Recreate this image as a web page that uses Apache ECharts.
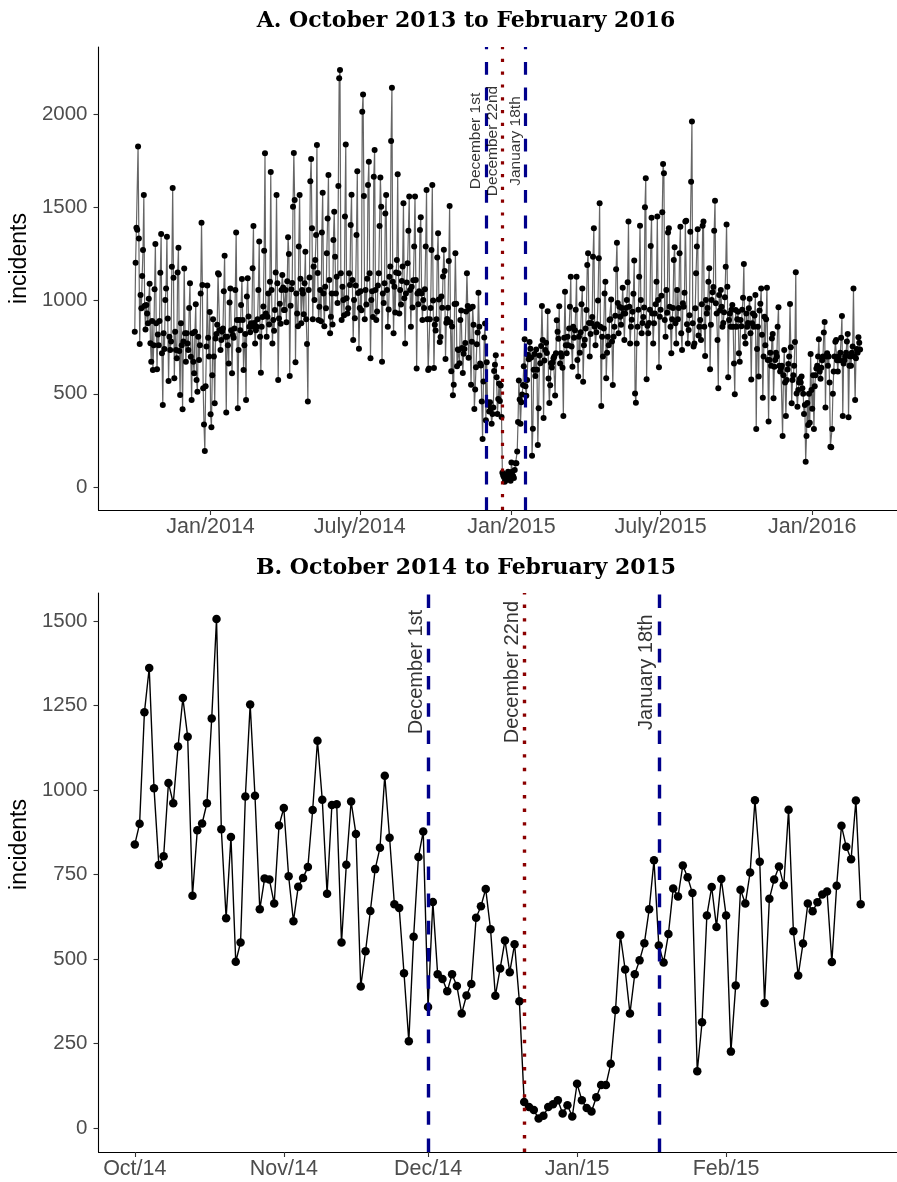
<!DOCTYPE html>
<html><head><meta charset="utf-8">
<script src="https://cdn.jsdelivr.net/npm/echarts@6/dist/echarts.min.js"></script>
<style>html,body{margin:0;padding:0;background:#fff}#c{width:897px;height:1182px}</style>
</head><body><div id="c"></div>
<script>
// ---- data (daily incidents) ----
// Panel A, Oct 1 2013 (Tue) .. Sep 30 2014, one row per week Tue..Mon
const incidents2013to2014 = [
833,1203,1390,1380,1825,1333,767,
1030,958,1131,1271,1566,972,845,
976,931,878,1010,1090,771,672,
890,628,760,1060,1303,878,631,
818,760,890,1149,1357,717,440,
824,740,1003,1065,1342,904,569,
806,735,780,1181,1603,1122,583,
833,735,690,1150,1283,729,494,
878,760,417,780,1171,824,672,
824,770,735,960,1092,699,467,
824,672,610,833,980,574,511,
806,681,760,1038,1417,1083,529,
336,193,540,753,1081,800,700,
938,390,320,600,900,700,449,
797,820,870,1146,1140,842,735,
788,833,850,1050,1240,806,399,
806,760,663,990,1064,840,610,
815,800,850,1056,1364,896,422,
735,896,840,976,1115,896,628,
760,820,467,1021,1119,914,860,
830,878,860,1173,1400,880,770,
840,860,900,1056,1316,806,613,
860,912,968,1267,1789,931,806,
913,1038,872,1100,1689,1056,770,
896,838,949,1150,1566,1092,574,
904,982,876,1056,1137,1070,949,
949,1056,884,1103,1339,1249,595,
972,1060,1094,1503,1791,1539,669,
1038,931,862,1289,1566,1117,878,
1056,1038,927,1092,1262,900,767,
458,1056,1123,1639,1759,1387,900,
1182,1003,1217,1351,1834,1148,896,
967,1056,889,1364,1578,1038,862,
1074,958,1253,1439,1673,1110,824,
913,1038,871,1324,1476,1235,1038,
1128,987,1614,2191,2236,1146,896,
1074,1003,921,1450,1836,1012,931,
958,1146,1083,1405,1567,1110,788,
1003,905,1080,1351,1693,1040,742,
960,1050,948,2012,2105,1560,900,
1056,978,1116,1619,1744,1146,690,
1003,1050,912,1664,1807,1056,896,
941,1080,1146,1400,1660,1503,672,
1038,987,1093,1467,1566,1056,860,
952,1128,1182,1855,2141,1100,824,
1074,936,1150,1217,1677,1146,931,
1056,978,1104,1182,1521,1012,770,
1038,1097,1200,1374,1557,1056,860,
1074,963,1108,1289,1557,1110,636,
1038,980,1050,1378,1446,1038,896,
1003,960,1060,1289,1593,900,628,
636,900,960,1271,1619,1000,638,
870
];
// Panel B (and panel A) Oct 1 2014 .. Mar 1 2015
const incidentsOct2014toFeb2015 = [
839,900,1230,1361,1005,778,804,1021,961,1129,
1272,1158,687,881,901,961,1212,1506,884,621,
861,492,549,981,1253,983,647,738,735,664,
895,947,745,612,714,740,772,941,1146,971,
693,956,958,549,779,966,870,419,523,642,
766,829,1042,859,662,651,458,257,566,802,
877,358,669,455,441,405,455,420,339,392,
426,622,656,707,588,391,472,555,461,544,
375,77,62,53,28,36,62,70,82,43,
67,34,131,82,59,49,91,127,127,190,
349,571,469,339,455,496,547,647,792,540,
490,574,709,685,777,742,695,168,313,629,
713,595,737,629,226,422,705,664,756,970,
788,370,678,735,774,718,942,582,451,546,
664,641,668,691,700,491,717,894,832,795,
969,662
];
// Panel A, Mar 2 2015 (Mon) .. Feb 28 2016; rows Tue..Mon
const incidents2015to2016 = [
717,
700,640,381,800,1047,760,717,
806,760,850,967,1128,753,645,
860,800,840,950,1128,681,592,
806,720,830,980,1065,565,760,
790,850,949,1190,1253,880,700,
820,880,912,1235,1387,860,760,
830,873,1000,1226,1521,860,434,
806,700,850,1038,1101,583,720,
806,760,896,900,1006,780,547,
806,860,918,1167,1310,987,824,
967,913,870,960,1069,931,788,
931,960,1003,1098,1423,967,770,
860,897,940,1036,1214,502,452,
770,860,950,1128,1401,1003,824,
880,912,963,1500,1655,578,865,
824,880,950,1292,1444,931,770,
878,931,980,1100,1450,1003,642,
913,950,1026,1473,1732,1682,896,
806,1056,934,1364,1387,966,860,
717,900,960,1217,1285,878,770,
1056,900,960,1253,1396,824,735,
985,967,1042,1423,1428,873,770,
842,921,1369,1637,1959,878,753,
770,958,1146,1289,1382,812,860,
896,788,980,1401,1423,860,703,
1003,931,960,1100,1173,631,870,
1003,1044,1072,1374,1535,985,931,
788,529,1029,946,1056,967,860,
880,937,1018,1181,1407,1074,588,
896,931,860,950,976,860,663,
497,949,860,900,940,717,672,
896,862,950,1015,1196,806,770,
931,860,880,958,1010,824,577,
878,931,860,920,1030,311,740,
860,592,946,983,1065,817,479,
700,913,760,900,1069,681,351,
681,720,650,797,820,476,645,
681,720,700,860,964,650,620,
640,650,274,600,735,560,381,
574,630,660,700,981,750,449,
574,600,650,778,1151,502,431,
520,560,580,560,592,530,500,
392,440,136,274,450,333,500,
345,713,520,420,600,311,540,
600,636,650,700,792,620,580,
640,680,700,829,885,427,700,
717,650,700,560,216,213,311,
500,620,700,779,788,680,620,
700,680,720,800,917,381,663,
680,700,720,780,820,374,650,
700,650,720,753,1064,700,467,
690,740,720,803,774,738
];
const startDateA = '2013-10-01';
const startDateB = '2014-10-01';
const tickDatesA = ['2014-01-01','2014-07-01','2015-01-01','2015-07-01','2016-01-01'];
const tickLabelsA = ['Jan/2014','July/2014','Jan/2015','July/2015','Jan/2016'];
const tickDatesB = ['2014-10-01','2014-11-01','2014-12-01','2015-01-01','2015-02-01'];
const tickLabelsB = ['Oct/14','Nov/14','Dec/14','Jan/15','Feb/15'];
const yTicksA = [0,500,1000,1500,2000];
const yTicksB = [0,250,500,750,1000,1250,1500];
const eventDates = ['2014-12-01','2014-12-21','2015-01-18'];
const eventLabels = ['December 1st','December 22nd','January 18th'];
const eventKinds = ['dashed','dotted','dashed'];

// ---- build ----
const DAY = 86400000;
function utc(s){const p=s.split('-').map(Number);return Date.UTC(p[0],p[1]-1,p[2]);}
const origin = utc(startDateA);
const dayOf = s => Math.round((utc(s)-origin)/DAY);
const allA = incidents2013to2014.concat(incidentsOct2014toFeb2015, incidents2015to2016);
const dataA = allA.map((v,i)=>[i,v]);
const offB = dayOf(startDateB);
const dataB = incidentsOct2014toFeb2015.map((v,i)=>[offB+i,v]);

const SANS = 'Liberation Sans';
const tickA = tickDatesA.map(dayOf), tickB = tickDatesB.map(dayOf);
function xAxisCfg(grid, ticks, labels, min, max){
  return {gridIndex:grid,type:'value',min:min,max:max,
    axisLine:{show:true,onZero:false,lineStyle:{color:'#000',width:1.1}},
    axisTick:{show:true,customValues:ticks,length:5,lineStyle:{color:'#333',width:1.1}},
    axisLabel:{customValues:ticks,color:'#4d4d4d',fontSize:21.5,fontFamily:SANS,margin:6,
      formatter:v=>{const k=ticks.indexOf(Math.round(v));return k>=0?labels[k]:'';}},
    splitLine:{show:false}};
}
function yAxisCfg(grid, ticks, min, max, shift){
  return {gridIndex:grid,type:'value',min:min,max:max,name:'incidents',nameLocation:'middle',nameGap:66,
    nameTextStyle:{color:'#000',fontSize:23,fontFamily:SANS,padding:[0,0,0,shift]},
    axisLine:{show:true,onZero:false,lineStyle:{color:'#000',width:1.1}},
    axisTick:{show:true,customValues:ticks,length:5,lineStyle:{color:'#333',width:1.1}},
    axisLabel:{customValues:ticks,color:'#4d4d4d',fontSize:20.5,fontFamily:SANS,margin:11,
      formatter:v=>String(Math.round(v))},
    splitLine:{show:false}};
}
function eventLines(w){
  return {symbol:'none',silent:true,animation:false,label:{show:false},
    data:eventDates.map((d,j)=>({xAxis:dayOf(d),lineStyle:{
      color:eventKinds[j]==='dotted'?'#8B0000':'#00008B',width:w,
      type:eventKinds[j]==='dotted'?[w,w*3]:[w*4,w*4],cap:'butt'}}))};
}
function eventText(xi, yi, yPos, size){
  return {type:'scatter',xAxisIndex:xi,yAxisIndex:yi,symbolSize:0,silent:true,z:5,
    data:eventDates.map((d,j)=>({value:[dayOf(d),yPos],name:eventLabels[j]})),
    label:{show:true,position:'inside',rotate:90,align:'center',verticalAlign:'bottom',
      padding:[0,0,2,0],formatter:p=>p.name,color:'#000',fontSize:size,fontFamily:SANS}};
}
const TITLE = {fontFamily:'DejaVu Serif',fontWeight:'bold',fontSize:22,color:'#000'};
const chart = echarts.init(document.getElementById('c'),null,{renderer:'canvas'});
chart.setOption({
  animation:false,
  backgroundColor:'#fff',
  title:[
    {text:'A. October 2013 to February 2016',left:461,top:5,textAlign:'center',textStyle:TITLE},
    {text:'B. October 2014 to February 2015',left:461,top:552,textAlign:'center',textStyle:TITLE}
  ],
  grid:[{left:96,top:47,width:808,height:463},{left:96,top:593,width:808,height:559}],
  xAxis:[xAxisCfg(0,tickA,tickLabelsA,-44,924.8), xAxisCfg(1,tickB,tickLabelsB,offB-7.55,offB+158.55)],
  yAxis:[yAxisCfg(0,yTicksA,-123,2359,40), yAxisCfg(1,yTicksB,-71,1583,56)],
  series:[
    {type:'line',xAxisIndex:0,yAxisIndex:0,data:dataA,showAllSymbol:true,symbol:'circle',symbolSize:6,
     itemStyle:{color:'#000'},lineStyle:{color:'#666666',width:1.2},z:3,markLine:eventLines(3.2)},
    {type:'line',xAxisIndex:1,yAxisIndex:1,data:dataB,showAllSymbol:true,symbol:'circle',symbolSize:8.5,
     itemStyle:{color:'#000'},lineStyle:{color:'#000',width:1.4},z:3,markLine:eventLines(3.4)},
    eventText(0,0,1855,15.5),
    eventText(1,1,1349,20)
  ]
});
</script></body></html>
